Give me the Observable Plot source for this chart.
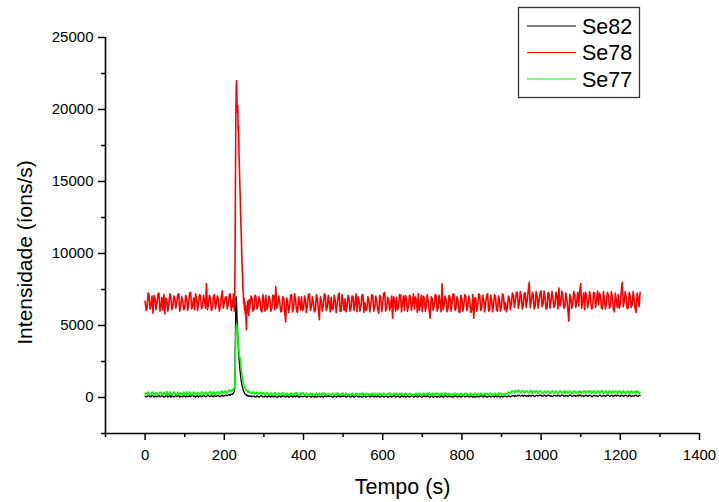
<!DOCTYPE html>
<html><head><meta charset="utf-8">
<script src="https://cdn.jsdelivr.net/npm/d3@7"></script>
<script src="https://cdn.jsdelivr.net/npm/@observablehq/plot@0.6"></script>
<style>body{margin:0;background:#fff;} #chart svg{display:block;}</style>
</head><body><div id="chart"></div>
<script>
// Series names and colours
const series = ["Se82", "Se78", "Se77"];
const colors = ["#000000", "#ff0000", "#00ff00"];

// Sampling times (s): before the peak, around the peak, after the peak.
// Baseline stretches have a reading every 5 s (a) plus an in-between reading at +2.5 s (b).
const tempoAntes = d3.range(0, 221, 5);      // 0..220
const tempoPico = d3.range(221, 265, 1);     // 221..264
const tempoDepois = d3.range(265, 1251, 5);  // 265..1250
const meioPasso = 2.5;

// Se78 (red)
const se78Antes = [6700, 6200, 7100, 6400, 5850, 6900, 6550, 7250, 6300, 6050,
  5800, 6800, 6450, 7000, 6250, 6900, 6600, 7200, 6350, 6700,
  6150, 6950, 6500, 7300, 6400, 6100, 6850, 6600, 7050, 6300,
  6750, 7900, 6450, 6900, 6200, 7150, 6550, 6800, 6350, 7400,
  6600, 7000, 6450, 7200, 6700];
const se78AntesB = [6050, 7250, 6150, 7050, 7100, 6100, 7200, 6000, 6950, 7150,
  6900, 6000, 7200, 6100, 7050, 6200, 7150, 6000, 7000, 6100,
  7100, 6050, 7250, 6150, 6900, 7200, 6050, 7150, 6150, 7100,
  6200, 6100, 7100, 6050, 7000, 6150, 7050, 6000, 7000, 6200,
  6950, 6150, 7100, 6050];
const se78Pico = [6800, 6300, 7200, 6900, 6000, 6600, 9000, 14000, 19000, 21500,
  22000, 20500, 19800, 20300, 18500, 18900, 17000, 16200, 15000, 14200,
  13000, 12000, 11200, 10000, 9200, 8500, 7600, 7200, 6500, 6900,
  6100, 6600, 5800, 6400, 5300, 4700, 6200, 5900, 6700, 6000,
  6500, 5700, 6800, 6200];
const se78Depois = [6400, 6900, 6100, 7000, 6350, 6750, 5950, 6650, 7100, 6300,
  6800, 6200, 7050, 7700, 6450, 6600, 6000, 6900, 5250, 6700,
  6350, 7150, 6250, 6800, 5900, 6600, 7000, 6150, 6750, 6450,
  7200, 6300, 6550, 6050, 6850, 5400, 6700, 6400, 7100, 6250,
  6600, 6950, 6150, 6750, 6450, 7250, 6000, 6650, 6850, 6300,
  6900, 6200, 7000, 6500, 5950, 6800, 6350, 7150, 6600, 6100,
  6750, 6450, 7050, 6250, 6650, 5850, 6950, 6500, 7300, 6200,
  6800, 6400, 5500, 6700, 6950, 6300, 7100, 6550, 6050, 6850,
  6350, 7000, 6600, 6150, 6750, 7200, 6450, 5950, 6900, 6300,
  6700, 5500, 6850, 6400, 7050, 6250, 6600, 7900, 6350, 6800,
  6150, 6950, 6500, 7150, 6200, 6700, 5900, 6850, 6450, 7000,
  6300, 6650, 6050, 5500, 6900, 6400, 7100, 6250, 6750, 6550,
  7200, 6100, 6800, 6450, 6950, 6000, 6700, 6350, 7050, 6600,
  6250, 6850, 6500, 7100, 6700, 7300, 6550, 7000, 6400, 7250,
  6750, 8000, 6600, 7150, 6350, 7050, 6800, 7400, 6500, 6950,
  6200, 7200, 6700, 6900, 6450, 7100, 7600, 6550, 7000, 6300,
  6850, 5300, 6950, 6500, 7150, 6650, 6350, 7900, 6750, 6100,
  7050, 6600, 6900, 6250, 7250, 6700, 6450, 7000, 6150, 6800,
  6550, 7100, 6350, 6950, 5950, 6750, 7150, 6500, 8000, 6650,
  6900, 6250, 7050, 6450, 6800, 5900, 6950, 7300];
const se78DepoisB = [7050, 6000, 7100, 6150, 7000, 6050, 7150, 6000, 6100, 7050,
  6000, 7100, 6100, 6200, 7050, 5950, 7000, 6000, 6900, 5900,
  7100, 5950, 7200, 6000, 7000, 6100, 6050, 7050, 5900, 7150,
  6050, 7000, 5950, 7150, 6100, 7000, 6000, 7200, 6050, 7100,
  5950, 6100, 7100, 5900, 7050, 6000, 7150, 6050, 5950, 7100,
  6000, 7050, 6050, 7200, 7000, 6000, 7100, 5900, 6050, 7000,
  5950, 7150, 6000, 7050, 6100, 7100, 5950, 7200, 6000, 6950,
  6050, 7050, 7000, 6000, 6100, 7150, 5950, 7050, 7100, 6000,
  7100, 6050, 7200, 7000, 5900, 6050, 7100, 7050, 6000, 7150,
  6000, 7000, 6050, 7150, 6000, 7100, 5950, 6100, 7050, 5950,
  7100, 6000, 7200, 6050, 7000, 5950, 7100, 6000, 7150, 6050,
  7050, 5900, 7150, 6900, 6000, 7200, 6050, 7100, 5950, 7050,
  6000, 7100, 5950, 7150, 6050, 7050, 6000, 7200, 6100, 5950,
  7050, 6100, 7250, 6250, 7300, 6200, 7350, 6150, 7250, 6250,
  7400, 6250, 7300, 6150, 7350, 6200, 7250, 6300, 7400, 6150,
  7300, 6200, 7350, 6250, 7300, 6150, 6350, 7400, 6200, 7250,
  6150, 7150, 6200, 7350, 6250, 7300, 7400, 6200, 7250, 7300,
  6250, 7350, 6150, 7300, 6250, 7400, 7250, 6200, 7350, 6150,
  7300, 6200, 7350, 6150, 7250, 6250, 6200, 7400, 6300, 7350,
  6150, 7300, 6250, 7350, 6200, 7250, 6300];

// Se82 (black)
const se82Antes = [90, 60, 120, 40, 110, 80, 30, 130, 70, 100,
  50, 140, 90, 20, 110, 80, 60, 130, 100, 40,
  90, 120, 70, 50, 140, 100, 80, 30, 120, 90,
  110, 60, 150, 80, 100, 130, 70, 120, 90, 160,
  110, 140, 180, 150, 220];
const se82AntesB = [40, 130, 50, 140, 20, 120, 100, 40, 140, 30,
  120, 30, 150, 100, 40, 130, 120, 20, 60, 130,
  30, 60, 140, 120, 60, 20, 140, 110, 40, 150,
  50, 140, 70, 120, 50, 90, 140, 60, 110, 100,
  160, 120, 210, 240];
const se82Pico = [230, 280, 300, 350, 400, 600, 1500, 4000, 6200, 7000,
  6600, 5600, 5000, 4300, 3800, 3200, 2800, 2500, 2100, 1800,
  1500, 1300, 1100, 950, 800, 700, 600, 500, 420, 380,
  320, 270, 240, 200, 180, 150, 170, 120, 140, 100,
  130, 90, 110, 80];
const se82Depois = [70, 40, 100, 20, 80, 60, 110, 30, 90, 50,
  80, 120, 40, 70, 10, 90, 60, 100, 30, 80,
  50, 110, 70, 40, 90, 20, 80, 60, 120, 50,
  90, 30, 70, 100, 40, 80, 60, 20, 110, 70,
  50, 90, 30, 80, 60, 120, 40, 70, 100, 50,
  80, 20, 90, 60, 110, 40, 70, 30, 100, 60,
  90, 50, 80, 120, 30, 70, 40, 100, 60, 80,
  20, 90, 60, 110, 50, 70, 30, 80, 100, 40,
  70, 60, 120, 30, 90, 50, 80, 40, 110, 60,
  80, 30, 100, 50, 70, 90, 20, 80, 60, 110,
  40, 70, 90, 50, 100, 30, 80, 60, 120, 50,
  90, 40, 70, 100, 20, 80, 60, 110, 50, 70,
  30, 90, 60, 80, 120, 40, 70, 100, 50, 90,
  60, 110, 80, 130, 150, 100, 160, 120, 90, 150,
  130, 170, 100, 140, 80, 160, 120, 150, 90, 140,
  110, 170, 130, 80, 150, 100, 140, 120, 160, 90,
  130, 110, 170, 80, 140, 120, 100, 160, 130, 90,
  150, 110, 140, 70, 160, 120, 100, 150, 90, 130,
  110, 160, 80, 140, 120, 100, 170, 90, 130, 110,
  150, 80, 140, 120, 100, 160, 90, 130];
const se82DepoisB = [120, 90, 30, 110, 20, 130, 50, 100, 30, 110,
  20, 60, 110, 20, 100, 30, 120, 40, 110, 20,
  110, 30, 100, 120, 30, 100, 40, 110, 20, 120,
  40, 110, 20, 30, 120, 30, 100, 90, 40, 120,
  100, 20, 110, 30, 100, 40, 110, 120, 30, 120,
  30, 110, 20, 120, 40, 100, 20, 110, 30, 110,
  40, 120, 30, 40, 110, 20, 100, 30, 110, 20,
  100, 30, 120, 30, 100, 20, 110, 40, 30, 100,
  20, 110, 40, 120, 30, 110, 20, 100, 40, 120,
  30, 110, 20, 100, 30, 40, 110, 20, 120, 40,
  110, 30, 20, 110, 40, 100, 30, 120, 40, 100,
  40, 110, 20, 30, 100, 30, 110, 40, 120, 30,
  100, 30, 110, 20, 40, 110, 30, 40, 110, 40,
  120, 40, 130, 70, 90, 160, 90, 170, 140, 80,
  70, 100, 160, 80, 150, 90, 170, 90, 160, 80,
  170, 90, 70, 160, 90, 170, 80, 170, 90, 150,
  80, 170, 90, 150, 80, 170, 160, 90, 70, 160,
  80, 170, 70, 150, 90, 70, 160, 80, 150, 70,
  170, 90, 160, 70, 170, 160, 90, 170, 80, 160,
  90, 160, 70, 90, 160, 80, 170];

// Se77 (green)
const se77Antes = [250, 180, 320, 220, 380, 160, 290, 240, 350, 200,
  270, 410, 190, 300, 230, 360, 170, 280, 330, 210,
  260, 390, 220, 310, 180, 340, 250, 290, 200, 370,
  240, 310, 270, 400, 220, 330, 280, 360, 300, 420,
  350, 390, 440, 470, 520];
const se77AntesB = [330, 370, 170, 360, 200, 340, 180, 370, 180, 360,
  160, 200, 380, 170, 390, 180, 360, 170, 190, 370,
  170, 220, 380, 170, 380, 200, 360, 180, 380, 210,
  380, 190, 360, 230, 390, 200, 400, 210, 440, 290,
  470, 300, 520, 400];
const se77Pico = [500, 560, 530, 620, 680, 800, 1400, 2900, 4200, 4900,
  5100, 4800, 4500, 4200, 3900, 3500, 3200, 2900, 2800, 2700,
  2500, 2200, 1950, 1700, 1500, 1300, 1150, 1000, 900, 800,
  700, 660, 600, 560, 520, 480, 500, 440, 460, 400,
  430, 370, 400, 350];
const se77Depois = [380, 300, 340, 260, 320, 280, 230, 310, 260, 290,
  200, 280, 240, 310, 180, 260, 220, 290, 170, 250,
  210, 300, 160, 240, 270, 190, 230, 320, 180, 250,
  220, 150, 280, 200, 240, 310, 170, 230, 260, 190,
  240, 180, 300, 210, 160, 260, 220, 290, 180, 230,
  270, 190, 240, 150, 280, 210, 250, 320, 180, 220,
  260, 200, 170, 290, 230, 190, 270, 210, 250, 160,
  230, 280, 190, 240, 300, 170, 220, 260, 200, 250,
  180, 270, 220, 160, 290, 210, 240, 190, 280, 230,
  200, 250, 310, 180, 230, 270, 150, 240, 210, 290,
  190, 230, 260, 170, 280, 220, 200, 250, 180, 300,
  240, 160, 270, 210, 230, 290, 190, 250, 220, 180,
  280, 200, 240, 170, 260, 230, 210, 290, 250, 300,
  280, 330, 420, 380, 500, 400, 450, 360, 470, 390,
  430, 350, 480, 400, 330, 460, 380, 420, 310, 450,
  370, 410, 300, 440, 360, 390, 330, 420, 350, 300,
  400, 340, 380, 290, 430, 360, 320, 410, 350, 470,
  380, 330, 440, 360, 400, 310, 420, 370, 450, 340,
  390, 300, 410, 360, 330, 430, 370, 400, 320, 380,
  350, 420, 310, 390, 360, 330, 400, 340];
const se77DepoisB = [290, 400, 240, 370, 230, 360, 330, 220, 350, 200,
  320, 180, 330, 200, 310, 170, 320, 160, 300, 160,
  310, 180, 310, 320, 160, 300, 310, 170, 300, 150,
  310, 280, 160, 310, 140, 200, 300, 310, 150, 290,
  150, 300, 160, 300, 290, 150, 310, 160, 300, 150,
  170, 310, 140, 290, 160, 300, 150, 200, 300, 140,
  160, 300, 280, 160, 300, 290, 150, 310, 140, 290,
  310, 170, 300, 150, 180, 290, 310, 150, 310, 160,
  300, 160, 140, 290, 170, 310, 150, 300, 160, 300,
  310, 140, 170, 300, 310, 160, 300, 150, 310, 170,
  300, 150, 160, 300, 170, 150, 310, 160, 300, 190,
  150, 300, 160, 300, 140, 170, 300, 150, 300, 290,
  160, 310, 150, 300, 160, 300, 300, 170, 160, 210,
  380, 260, 470, 300, 420, 520, 330, 480, 320, 470,
  320, 460, 300, 470, 440, 300, 460, 300, 440, 310,
  450, 290, 460, 310, 450, 290, 470, 300, 460, 430,
  300, 460, 300, 470, 310, 440, 450, 290, 460, 310,
  460, 450, 300, 470, 300, 460, 300, 480, 300, 460,
  290, 460, 300, 460, 440, 300, 460, 300, 470, 290,
  450, 300, 460, 300, 450, 470, 300];

// Axis ticks and labels
const xTicksMajor = [0, 200, 400, 600, 800, 1000, 1200, 1400];
const xTicksMinor = [-100, 100, 300, 500, 700, 900, 1100, 1300];
const yTicksMajor = [0, 5000, 10000, 15000, 20000, 25000];
const yTicksMinor = [-2500, 2500, 7500, 12500, 17500, 22500];
const xDomain = [-100, 1400];
const yDomain = [-2500, 25000];
const xLabel = "Tempo (s)";
const yLabel = "Intensidade (íons/s)";

function build(name, antes, antesB, pico, depois, depoisB) {
  const rows = [];
  const add = (ts, a, b) => a.forEach((v, i) => {
    rows.push({s: name, t: ts[i], v});
    if (b[i] !== undefined) rows.push({s: name, t: ts[i] + meioPasso, v: b[i]});
  });
  add(tempoAntes, antes, antesB);
  pico.forEach((v, i) => rows.push({s: name, t: tempoPico[i], v}));
  add(tempoDepois, depois, depoisB);
  return rows;
}
const data82 = build("Se82", se82Antes, se82AntesB, se82Pico, se82Depois, se82DepoisB);
const data78 = build("Se78", se78Antes, se78AntesB, se78Pico, se78Depois, se78DepoisB);
const data77 = build("Se77", se77Antes, se77AntesB, se77Pico, se77Depois, se77DepoisB);

const font = "'Liberation Sans', Arial, sans-serif";

const chart = Plot.plot({
  width: 719,
  height: 502,
  marginLeft: 105,
  marginRight: 20,
  marginTop: 37,
  marginBottom: 69,
  style: {fontFamily: font, background: "white", color: "black"},
  x: {domain: xDomain},
  y: {domain: yDomain},
  marks: [
    Plot.line(data82, {x: "t", y: "v", stroke: colors[0], strokeWidth: 1.3}),
    Plot.line(data78, {x: "t", y: "v", stroke: colors[1], strokeWidth: 1.6}),
    Plot.line(data77, {x: "t", y: "v", stroke: colors[2], strokeWidth: 1.6}),
    Plot.ruleY([yDomain[0]], {x1: xDomain[0], x2: xDomain[1], stroke: "black", strokeWidth: 1.6}),
    Plot.ruleX([xDomain[0]], {y1: yDomain[0], y2: yDomain[1], stroke: "black", strokeWidth: 1.6}),
    Plot.axisX(xTicksMajor, {tickSize: 7, tickPadding: 9, tickFormat: d3.format("d"), fontSize: 15, label: null, strokeWidth: 1.5}),
    Plot.axisX(xTicksMinor, {tickSize: 4, tickFormat: () => "", label: null, strokeWidth: 1.5}),
    Plot.axisY(yTicksMajor, {tickSize: 7, tickPadding: 5, tickFormat: d3.format("d"), fontSize: 15, label: null, strokeWidth: 1.5}),
    Plot.axisY(yTicksMinor, {tickSize: 4, tickFormat: () => "", label: null, strokeWidth: 1.5}),
    Plot.text([xLabel], {text: d => d, frameAnchor: "bottom", dy: 54, fontSize: 21.5, lineAnchor: "middle", textAnchor: "middle", fill: "black"}),
    Plot.text([yLabel], {text: d => d, frameAnchor: "left", rotate: -90, dx: -80, dy: 17, fontSize: 21, lineAnchor: "middle", textAnchor: "middle", fill: "black"})
  ]
});

// Legend box (top right)
const svg = d3.select(chart);
const lg = svg.append("g").attr("font-family", font).attr("text-anchor", "start");
lg.append("rect").attr("x", 518.5).attr("y", 7.5).attr("width", 121).attr("height", 90)
  .attr("fill", "white").attr("stroke", "#333").attr("stroke-width", 1.3);
series.forEach((s, i) => {
  const yy = 26 + i * 26.5;
  lg.append("line").attr("x1", 527).attr("x2", 576).attr("y1", yy).attr("y2", yy)
    .attr("stroke", colors[i]).attr("stroke-width", 1);
  lg.append("text").attr("x", 582).attr("y", yy).attr("dy", "0.35em")
    .attr("text-anchor", "start").attr("font-size", 21.5).attr("fill", "black").text(s);
});

document.getElementById("chart").appendChild(chart);
</script>
</body></html>
